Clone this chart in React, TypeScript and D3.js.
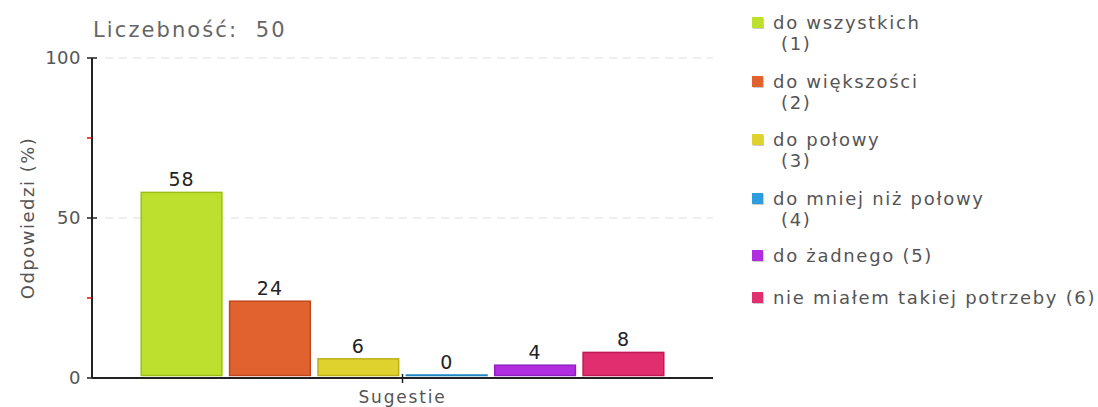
import React from "react";
import * as d3 from "d3";

const title = "Liczebność:  50";
const groupLabel = "Sugestie";
const yAxisLabel = "Odpowiedzi (%)";
const categories = [
  "do wszystkich\n(1)",
  "do większości\n(2)",
  "do połowy\n(3)",
  "do mniej niż połowy\n(4)",
  "do żadnego (5)",
  "nie miałem takiej potrzeby (6)",
];
const values = [58, 24, 6, 0, 4, 8];
const fills = ["#bde02e", "#e0622e", "#e0d22e", "#2e9de0", "#b02ee0", "#e02e6e"];
const strokes = ["#9dbf14", "#c0481c", "#beb01a", "#1f86c6", "#9020c2", "#c01a56"];
const majorTicks = [0, 50, 100];
const minorTicks = [25, 75];
const gridTicks = [50, 100];

const W = 1098;
const H = 407;
const FONT = "'DejaVu Sans', Verdana, sans-serif";

export default function App() {
  const left = 92;
  const right = 713;
  const top = 58;
  const bottom = 378;
  const y = d3.scaleLinear().domain([0, 100]).range([bottom, top]);
  const x0 = d3.scaleBand<string>().domain([groupLabel]).range([left, right]).paddingOuter(0.0925).paddingInner(0);
  const x1 = d3
    .scaleBand<string>()
    .domain(categories)
    .range([0, x0.bandwidth()])
    .paddingInner(0.07);
  const gx = x0(groupLabel) as number;
  const center = gx + x0.bandwidth() / 2;

  const legendRows = [29, 88, 146, 205, 262, 304];

  return (
    <svg width={W} height={H} style={{ position: "absolute", left: 0, top: 0 }} fontFamily={FONT}>
      <rect width={W} height={H} fill="#fff" />
      <text x={93} y={37} fontSize={21} fill="#666" letterSpacing={2.1} style={{ whiteSpace: "pre" }}>
        {title}
      </text>
      {gridTicks.map((t) => (
        <line key={"g" + t} x1={105} x2={right} y1={y(t)} y2={y(t)} stroke="#ddd" strokeWidth={1} strokeDasharray="8,6" />
      ))}
      {categories.map((c, i) => {
        const bx = gx + (x1(c) as number);
        const bw = x1.bandwidth();
        const yt = y(values[i]);
        const yb = y(0) - 2.5;
        const yTop = Math.min(yt, yb - 0.5);
        return (
          <g key={c}>
            <rect
              x={bx + 0.75}
              y={yTop}
              width={bw - 1.5}
              height={yb - yTop}
              fill={fills[i]}
              stroke={strokes[i]}
              strokeWidth={1.5}
            />
            <text x={bx + bw / 2} y={yTop - 6} textAnchor="middle" fontSize={19} fill="#222" letterSpacing={1}>
              {values[i]}
            </text>
          </g>
        );
      })}
      {/* y axis */}
      <line x1={left} x2={left} y1={top} y2={bottom} stroke="#222" strokeWidth={2} />
      {majorTicks.map((t) => (
        <g key={"t" + t}>
          <line x1={left - 5} x2={left + 5} y1={y(t)} y2={y(t)} stroke="#222" strokeWidth={1.5} />
          <text x={left - 11} y={y(t) + 6} textAnchor="end" fontSize={18} fill="#555" letterSpacing={0.5}>
            {t}
          </text>
        </g>
      ))}
      {minorTicks.map((t) => (
        <line key={"m" + t} x1={left - 5} x2={left} y1={y(t)} y2={y(t)} stroke="#e00" strokeWidth={1.5} />
      ))}
      <text transform={`translate(34,${y(50)}) rotate(-90)`} textAnchor="middle" fontSize={18} fill="#555" letterSpacing={1.5}>
        {yAxisLabel}
      </text>
      {/* x axis */}
      <line x1={left} x2={right} y1={bottom} y2={bottom} stroke="#222" strokeWidth={2} />
      <line x1={center} x2={center} y1={bottom - 4} y2={bottom + 5} stroke="#222" strokeWidth={1.5} />
      <text x={center} y={403} textAnchor="middle" fontSize={17} fill="#555" letterSpacing={1.8}>
        {groupLabel}
      </text>
      {/* legend */}
      {categories.map((c, i) => {
        const lines = c.split("\n");
        const by = legendRows[i];
        return (
          <g key={"l" + c}>
            <rect x={753} y={by - 11} width={11} height={11} fill="#ccc" />
            <rect x={752} y={by - 12} width={11} height={11} fill={fills[i]} />
            {lines.map((ln, j) => (
              <text key={j} x={j === 0 ? 773 : 781} y={by + j * 21} fontSize={18} fill="#555" letterSpacing={1.7}>
                {ln}
              </text>
            ))}
          </g>
        );
      })}
    </svg>
  );
}
